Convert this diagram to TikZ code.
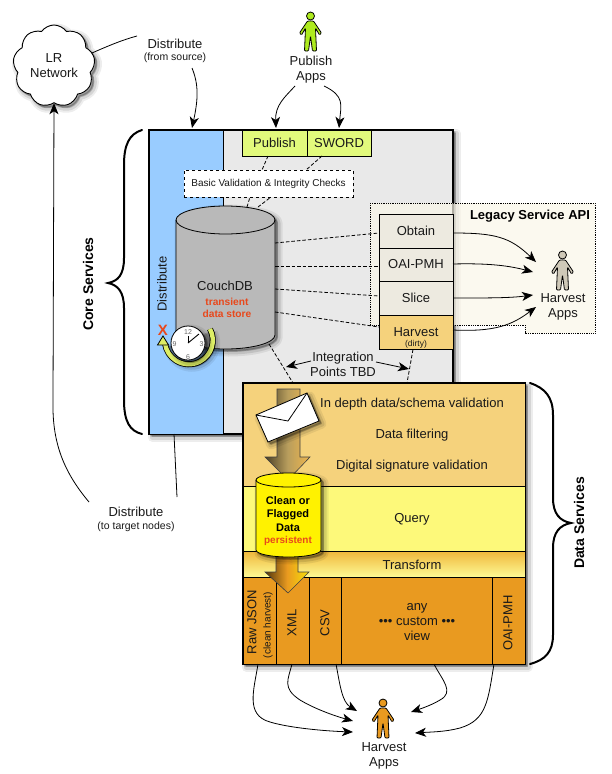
\documentclass[tikz,border=0pt]{standalone}
\usepackage{fontspec}
\setmainfont{Liberation Sans}
\usepackage{xcolor}
\usetikzlibrary{arrows.meta,positioning,calc,shapes.symbols}
\definecolor{coregray}{HTML}{E9E9E9}
\definecolor{distblue}{HTML}{99CCFF}
\definecolor{limebox}{HTML}{E2FA7C}
\definecolor{dbgray}{HTML}{B9B9B9}
\definecolor{legacybg}{HTML}{FAF6E8}
\definecolor{stackbg}{HTML}{EDEAE0}
\definecolor{sandbox}{HTML}{F5D27C}
\definecolor{queryyellow}{HTML}{FDF97A}
\definecolor{vieworange}{HTML}{E99A20}
\definecolor{redlabel}{HTML}{E8481C}
\definecolor{limeperson}{HTML}{AEEB1E}
\definecolor{stoneperson}{HTML}{CFC9B8}
\definecolor{looplime}{HTML}{DDEE66}

\begin{document}
\begin{tikzpicture}[
	x=1pt,
	y=-1pt,
	softshadow/.style={
		preaction={fill=black,draw=black,opacity=.07,line width=9pt,line join=round,transform canvas={shift={(3pt,-3pt)}}},
		preaction={fill=black,draw=black,opacity=.10,line width=5pt,line join=round,transform canvas={shift={(3pt,-3pt)}}},
		preaction={fill=black,draw=black,opacity=.18,line width=1.5pt,line join=round,transform canvas={shift={(2pt,-2pt)}}}
	},
	plain/.style={font=\fontsize{13}{15}\selectfont,align=center,inner sep=0pt,text=black!90,yshift=-1pt},
	small/.style={font=\fontsize{10.5}{12}\selectfont,align=center,inner sep=0pt,text=black!90,yshift=-1pt},
	heading/.style={font=\bfseries\fontsize{14}{16}\selectfont,align=center,inner sep=0pt},
	box/.style={draw,rectangle,inner sep=0pt,line width=.8pt,font=\fontsize{13}{15}\selectfont,text=black!90,align=center},
	gap/.style={draw,line width=.8pt,dash pattern=on 3.5pt off 2pt},
	link/.style={line width=.8pt,-{Stealth[length=11pt,width=9pt,inset=3pt]}},
	tail/.style={line width=.8pt},
	curly/.style={line width=2pt,line cap=round},
	person/.pic={
		\path[pic actions,draw,line width=.8pt,rounded corners=1pt]
			(-3,5) -- (3,5) -- (11,17) -- (9,19) -- (5,12) -- (6,35) -- (2,35) -- (0,20) -- (-2,35) -- (-6,35) -- (-5,12) -- (-9,19) -- (-11,17) -- cycle;
		\path[pic actions,draw,line width=.8pt] (0,0) circle[radius=4pt];
	}
]
	\useasboundingbox (0,0) rectangle (611,774);

	% core services
	\node[
	box,
	softshadow,
	line width=1.1pt,
	fill=coregray,
	minimum width=304pt,
	minimum height=304pt
	]
	(core)
	at (301,282)
	{};

	\node[
	box,
	fill=distblue,
	minimum width=74pt,
	minimum height=304pt
	]
	(dist)
	at (186,282)
	{};

	\node[
	plain,
	rotate=90
	]
	(disttxt)
	at (162,283)
	{Distribute};

	\node[
	box,
	fill=limebox,
	minimum width=65pt,
	minimum height=26pt
	]
	(publish)
	at (274.5,143)
	{Publish};

	\node[
	box,
	fill=limebox,
	minimum width=64pt,
	minimum height=26pt
	]
	(sword)
	at (339,143)
	{SWORD};

	\node[
	box,
	dashed,
	fill=white,
	font=\fontsize{10}{12}\selectfont,
	minimum width=169pt,
	minimum height=27pt
	]
	(checks)
	at (268.5,183.5)
	{Basic Validation \& Integrity Checks};

	% legacy area
	\draw[
	densely dotted,
	line width=.8pt,
	fill=legacybg,
	fill opacity=.7
	]
	(370,203) -- (595,203) -- (595,333) -- (525,333) -- (525,325) -- (370,325) -- cycle;

	\node[
	heading,
	font=\bfseries\fontsize{13}{15}\selectfont
	]
	(legacy)
	at (530,216)
	{Legacy Service API};

	% database
	\draw[
	softshadow,
	line width=.8pt,
	fill=dbgray
	]
	(176,220) arc[start angle=180,end angle=0,x radius=49.5pt,y radius=14pt]
	-- (275,335) arc[start angle=0,end angle=-180,x radius=49.5pt,y radius=14pt]
	-- cycle;
	\draw[line width=.8pt]
	(176,220) arc[start angle=180,end angle=360,x radius=49.5pt,y radius=14pt];

	\node[
	plain
	]
	(couch)
	at (225,285)
	{CouchDB};

	\node[
	small,
	font=\bfseries\fontsize{10.2}{12.5}\selectfont,
	text=redlabel
	]
	(couchnote)
	at (227,307)
	{transient\\data store};

	% legacy stack
	\node[
	box,
	fill=stackbg,
	minimum width=74pt,
	minimum height=34pt
	]
	(obtain)
	at (416,231)
	{Obtain};

	\node[
	box,
	fill=stackbg,
	minimum width=74pt,
	minimum height=33pt
	]
	(oai)
	at (416,264.5)
	{OAI-PMH};

	\node[
	box,
	fill=stackbg,
	minimum width=74pt,
	minimum height=34pt
	]
	(slice)
	at (416,298)
	{Slice};

	\node[
	box,
	fill=sandbox,
	minimum width=74pt,
	minimum height=34pt
	]
	(harvest)
	at (416,332)
	{};

	\node[
	plain
	]
	(harvesttxt)
	at (416,331.5)
	{Harvest};

	\node[
	small,
	font=\fontsize{8.5}{10}\selectfont
	]
	(dirty)
	at (416,343)
	{(dirty)};

	% dashed integration points
	\coordinate (dbA) at (275,243);
	\coordinate (dbB) at (275,266);
	\coordinate (dbC) at (275,289);
	\coordinate (dbD) at (275,312);
	\coordinate (dbE) at (269,344);
	\coordinate (dbF) at (247,207);
	\coordinate (dbG) at (258,207);
	\draw[gap] (dbA) -- (379,233);
	\draw[gap] (dbB) -- (379,266);
	\draw[gap] (dbC) -- (379,296);
	\draw[gap] (dbD) -- (379,327);
	\draw[gap] (dbF) -- (250,197);
	\draw[gap] (dbG) -- (271,197);
	\draw[gap] (268,156) -- (262,170);
	\draw[gap] (322,156) -- (306,170);
	\draw[gap] (dbE) -- (293,383);
	\draw[gap] (harvest.south) ++(-3,0) -- (407,383);

	\node[
	plain
	]
	(points)
	at (343,363.5)
	{Integration\\Points TBD};

	\coordinate (pointL) at (286,367);
	\coordinate (pointR) at (409,369);
	\draw[link] (311,361) -- (pointL);
	\draw[link] (376,362) -- (pointR);

	% clock
	\draw[
	softshadow,
	line width=6pt,
	black
	]
	(210,329) arc[start angle=28,end angle=-172,radius=24pt];
	\draw[
	line width=4.4pt,
	looplime
	]
	(210,329) arc[start angle=28,end angle=-172,radius=24pt];
	\draw[
	fill=looplime,
	line width=.8pt
	]
	(163,336) -- (168.5,345) -- (157.5,345) -- cycle;

	\node[
	draw,
	circle,
	softshadow,
	fill=white,
	line width=.8pt,
	minimum size=34pt,
	inner sep=0pt
	]
	(clock)
	at (188,343)
	{};

	\node[small,font=\fontsize{7}{8}\selectfont,text=black!60] (c12) at (188,331) {12};
	\node[small,font=\fontsize{7}{8}\selectfont,text=black!60] (c3) at (201.5,343) {3};
	\node[small,font=\fontsize{7}{8}\selectfont,text=black!60] (c6) at (188,356) {6};
	\node[small,font=\fontsize{7}{8}\selectfont,text=black!60] (c9) at (174.5,343) {9};
	\draw[line width=.9pt] (clock.center) -- (199,334);
	\draw[line width=.9pt] (clock.center) -- (188,336);

	\node[
	heading,
	font=\bfseries\fontsize{15}{15}\selectfont,
	text=redlabel
	]
	(stop)
	at (163,330)
	{X};

	% data services
	\node[
	box,
	softshadow,
	line width=1.1pt,
	fill=sandbox,
	minimum width=282pt,
	minimum height=281pt
	]
	(data)
	at (384,523.5)
	{};

	\node[
	box,
	fill=sandbox,
	minimum width=282pt,
	minimum height=103pt
	]
	(filter)
	at (384,434.5)
	{};

	\node[
	box,
	fill=queryyellow,
	minimum width=282pt,
	minimum height=65pt
	]
	(query)
	at (384,518.5)
	{};

	\node[
	box,
	top color=vieworange!70!queryyellow,
	bottom color=queryyellow!80!white,
	minimum width=282pt,
	minimum height=26pt
	]
	(transform)
	at (384,564)
	{};

	\node[plain] (deep) at (412,403) {In depth data/schema validation};
	\node[plain] (filtertxt) at (412,434) {Data filtering};
	\node[plain] (signature) at (412,465) {Digital signature validation};
	\node[plain] (querytxt) at (412,518) {Query};
	\node[plain] (transformtxt) at (412,564) {Transform};

	\node[
	box,
	fill=vieworange,
	minimum width=33pt,
	minimum height=87pt
	]
	(rawjson)
	at (259.5,620.5)
	{};

	\node[
	box,
	fill=vieworange,
	minimum width=33pt,
	minimum height=87pt
	]
	(xml)
	at (292.5,620.5)
	{};

	\node[
	box,
	fill=vieworange,
	minimum width=32pt,
	minimum height=87pt
	]
	(csv)
	at (325,620.5)
	{};

	\node[
	box,
	fill=vieworange,
	minimum width=151pt,
	minimum height=87pt
	]
	(anyview)
	at (416.5,620.5)
	{};

	\node[
	box,
	fill=vieworange,
	minimum width=33pt,
	minimum height=87pt
	]
	(oaiview)
	at (508.5,620.5)
	{};

	\draw[line width=1.1pt] (data.north west) rectangle (data.south east);

	\node[plain,rotate=90] (rawtxt) at (252,621) {Raw JSON};
	\node[small,font=\fontsize{10}{12}\selectfont,rotate=90] (cleantxt) at (268,624) {(clean harvest)};
	\node[plain,rotate=90] (xmltxt) at (292,622) {XML};
	\node[plain,rotate=90] (csvtxt) at (325,622) {CSV};
	\node[plain,rotate=90] (oaitxt) at (508,622) {OAI-PMH};
	\node[plain] (customtxt) at (417,621.5) {any\\••• custom •••\\view};

	% flow through data services
	\draw[
	line width=.6pt,
	draw=black!75,
	left color=black!70!sandbox,
	right color=vieworange!50!sandbox,
	middle color=black!25!sandbox
	]
	(277,389) -- (300,389) -- (300,457) -- (310,457) -- (288,480) -- (265,457) -- (277,457) -- cycle;

	\draw[
	line width=.6pt,
	draw=black!75,
	left color=black!65!vieworange,
	right color=yellow!70!vieworange,
	middle color=vieworange
	]
	(276,552) -- (298,552) -- (298,572) -- (309,572) -- (288,593) -- (265,572) -- (276,572) -- cycle;

	\draw[
	softshadow,
	line width=.8pt,
	fill=yellow
	]
	(256,480) arc[start angle=180,end angle=0,x radius=32.5pt,y radius=7pt]
	-- (321,550) arc[start angle=0,end angle=-180,x radius=32.5pt,y radius=7pt]
	-- cycle;
	\draw[line width=.8pt]
	(256,480) arc[start angle=180,end angle=360,x radius=32.5pt,y radius=7pt];

	\node[
	heading,
	font=\bfseries\fontsize{11}{13.5}\selectfont
	]
	(store)
	at (288,514)
	{Clean or\\Flagged\\Data};

	\node[
	small,
	font=\bfseries\fontsize{10}{12}\selectfont,
	text=redlabel
	]
	(persistent)
	at (288,540)
	{persistent};

	% envelope
	\draw[
	softshadow,
	fill=white,
	line width=.8pt
	]
	(256,415) -- (307,393) -- (319,421) -- (268,442) -- cycle;
	\draw[line width=.8pt] (256,415) -- (288,421) -- (307,393);

	% people
	\pic[fill=limeperson,softshadow] (publishers) at (310.5,16) {person};
	\pic[fill=stoneperson,softshadow] (legacyusers) at (562.5,255) {person};
	\pic[fill=vieworange,softshadow] (harvesters) at (383,703) {person};

	\node[plain] (publishtxt) at (311,68.5) {Publish\\Apps};
	\node[plain] (legacytxt) at (563,306) {Harvest\\Apps};
	\node[plain] (harvesttxtb) at (384,754.5) {Harvest\\Apps};

	% network
	\node[
	draw,
	softshadow,
	cloud,
	cloud puffs=9,
	cloud puff arc=110,
	aspect=1,
	fill=white,
	line width=.9pt,
	inner sep=0pt,
	minimum width=82pt,
	minimum height=82pt
	]
	(network)
	at (54,66)
	{};

	\node[plain] (networktxt) at (54,64.5) {LR\\Network};

	\node[plain] (distsrc) at (175,43) {Distribute};
	\node[small] (distsrcb) at (175,57) {(from source)};
	\node[plain] (disttgt) at (136,511) {Distribute};
	\node[small] (disttgtb) at (136,526) {(to target nodes)};

	\coordinate (srcA) at (192,128);
	\coordinate (pubA) at (276,128);
	\coordinate (pubB) at (339,128);
	\draw[tail] (network) ++(38,-13) .. controls (108,46) and (122,40) .. (137,36);
	\draw[link] (192,68) .. controls (199,85) and (198,100) .. (srcA);
	\draw[link] (295,86) .. controls (285,97) and (275,105) .. (pubA);
	\draw[link] (324,86) .. controls (345,96) and (341,105) .. (pubB);
	\draw[link] (89,502) .. controls (62,470) and (52,440) .. (53,400) -- (network.south);
	\draw[tail] (174,434) -- (177,497);

	% legacy harvest arrows
	\coordinate (userA) at (536,262);
	\coordinate (userB) at (533,272);
	\coordinate (userC) at (533,295);
	\coordinate (userD) at (536,307);
	\draw[link] (453,233) .. controls (495,233) and (510,237) .. (userA);
	\draw[link] (453,264) .. controls (490,263) and (510,266) .. (userB);
	\draw[link] (453,298) .. controls (490,298) and (510,298) .. (userC);
	\draw[link] (453,330) .. controls (495,332) and (512,325) .. (userD);

	% view harvest arrows
	\coordinate (viewA) at (353,732);
	\coordinate (viewB) at (353,721);
	\coordinate (viewC) at (357,711);
	\coordinate (viewD) at (411,712);
	\coordinate (viewE) at (415,733);
	\draw[link] (258,664) .. controls (254,690) and (245,715) .. (270,722) .. controls (290,728) and (325,731) .. (viewA);
	\draw[link] (292,664) .. controls (288,680) and (282,688) .. (300,700) .. controls (315,709) and (335,716) .. (viewB);
	\draw[link] (336,664) .. controls (340,685) and (342,702) .. (viewC);
	\draw[link] (434,664) .. controls (442,680) and (455,692) .. (440,700) .. controls (432,705) and (420,709) .. (viewD);
	\draw[link] (494,664) .. controls (488,700) and (487,720) .. (460,728) .. controls (445,732) and (430,732) .. (viewE);

	% braces
	\draw[curly] (142,130) .. controls (129,134) and (124,145) .. (124,165) -- (124,258) .. controls (124,275) and (118,281) .. (108,283) .. controls (118,285) and (124,292) .. (124,308) -- (124,400) .. controls (124,422) and (130,431) .. (142,434);
	\draw[curly] (530,383) .. controls (545,388) and (553,397) .. (553,415) -- (553,498) .. controls (553,514) and (560,521) .. (571,523) .. controls (560,525) and (553,532) .. (553,548) -- (553,635) .. controls (553,652) and (545,660) .. (530,664);

	\node[heading,rotate=90] (coretxt) at (88,284) {Core Services};
	\node[heading,rotate=90] (datatxt) at (579,523) {Data Services};

\end{tikzpicture}
\end{document}
